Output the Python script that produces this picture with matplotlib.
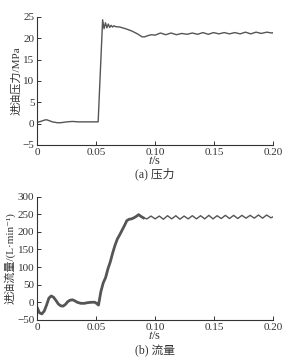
import matplotlib
matplotlib.use('Agg')
import matplotlib.pyplot as plt

plt.rcParams['font.family'] = ['Liberation Serif', 'Noto Sans CJK SC', 'DejaVu Sans']
plt.rcParams['mathtext.fontset'] = 'stix'
plt.rcParams['font.size'] = 8

# (a) 压力
p_t = [0, 0.003, 0.006, 0.008, 0.010, 0.013, 0.017, 0.020, 0.025, 0.030,
       0.035, 0.040, 0.045, 0.050, 0.0517, 0.0555, 0.0567, 0.0579, 0.0591, 0.0603,
       0.0615, 0.0627, 0.0639, 0.0651, 0.0663, 0.070, 0.075, 0.080,
       0.085, 0.089, 0.091, 0.094, 0.097,
       0.100, 0.1045, 0.109, 0.1135, 0.118, 0.1225, 0.127, 0.1315, 0.136, 0.1405,
       0.145, 0.1495, 0.154, 0.1585, 0.163, 0.1675, 0.172, 0.1765, 0.181, 0.1855,
       0.190, 0.1945, 0.199, 0.200]
p_val = [0.3, 0.5, 0.8, 0.9, 0.7, 0.4, 0.2, 0.2, 0.4, 0.5,
         0.4, 0.4, 0.4, 0.4, 0.4, 24.3, 22.2, 23.6, 22.4, 23.3,
         22.5, 23.0, 22.6, 22.9, 22.7, 22.6, 22.2, 21.7,
         21.0, 20.3, 20.3, 20.6, 20.8,
         20.7, 21.2, 20.8, 21.2, 20.8, 21.1, 20.9, 21.2, 20.9, 21.3,
         20.9, 21.3, 21.0, 21.3, 21.0, 21.3, 21.0, 21.4, 21.0, 21.4,
         21.1, 21.4, 21.2, 21.3]

# (b) 流量
q_t = [0, 0.002, 0.004, 0.006, 0.008, 0.010, 0.012, 0.014, 0.016, 0.018,
       0.020, 0.022, 0.024, 0.026, 0.028, 0.030, 0.032, 0.034, 0.037, 0.040,
       0.043, 0.046, 0.049, 0.051, 0.052, 0.054, 0.056, 0.058, 0.060, 0.062,
       0.064, 0.066, 0.068, 0.070, 0.072, 0.074, 0.076, 0.078, 0.080, 0.082,
       0.084, 0.086, 0.088, 0.090,
       0.093, 0.0965, 0.100, 0.1035, 0.107, 0.1105, 0.114, 0.1175, 0.121, 0.1245,
       0.128, 0.1315, 0.135, 0.1385, 0.142, 0.1455, 0.149, 0.1525, 0.156, 0.1595,
       0.163, 0.1665, 0.170, 0.1735, 0.177, 0.1805, 0.184, 0.1875, 0.191, 0.1945,
       0.198, 0.200]
q_val = [-15, -30, -33, -25, -8, 12, 18, 14, 5, -5,
         -10, -11, -6, 2, 6, 7, 4, 0, -3, -3,
         -1, 0, 0, -5, -8, 30, 55, 70, 95, 115,
         140, 162, 180, 192, 205, 218, 232, 236, 237, 240,
         244, 249, 244, 240,
         237, 245, 237, 245, 236, 246, 237, 246, 236, 245,
         237, 246, 237, 246, 237, 247, 237, 246, 238, 247,
         238, 247, 238, 247, 239, 247, 239, 248, 239, 248,
         240, 243]

line_col = '#555555'
text_col = '#333333'

fig = plt.figure(figsize=(2.9, 3.57), dpi=100)
ax1 = fig.add_axes([0.128, 0.594, 0.814, 0.359])
ax2 = fig.add_axes([0.128, 0.104, 0.814, 0.345])

ax1.plot(p_t, p_val, color=line_col, lw=1.0)
ax1.set_xlim(0, 0.2)
ax1.set_ylim(-5, 25)
ax1.set_yticks([-5, 0, 5, 10, 15, 20, 25])
ax1.set_ylabel('进油压力/MPa', labelpad=1)

split = q_t.index(0.090)
ax2.plot(q_t[:split + 1], q_val[:split + 1], color=line_col, lw=2.0)
ax2.plot(q_t[split:], q_val[split:], color=line_col, lw=1.0)
ax2.set_xlim(0, 0.2)
ax2.set_ylim(-50, 300)
ax2.set_yticks(range(-50, 301, 50))
ax2.set_ylabel('进油流量/(L·min⁻¹)', labelpad=1)

for ax in (ax1, ax2):
    ax.set_xticks([0, 0.05, 0.10, 0.15, 0.20])
    ax.set_xticklabels(['0', '0.05', '0.10', '0.15', '0.20'])
    ax.spines['top'].set_visible(False)
    ax.spines['right'].set_visible(False)
    for s in ('left', 'bottom'):
        ax.spines[s].set_color(text_col)
        ax.spines[s].set_linewidth(0.8)
    ax.tick_params(direction='in', length=3, width=0.7, colors=text_col,
                   labelsize=8, pad=2)
    ax.yaxis.label.set_color(text_col)
    ax.set_xlabel('$t$/s', labelpad=-1, color=text_col, fontsize=9)

fig.text(0.535, 1 - 174 / 357, '(a) 压力', ha='center', va='center',
         color=text_col, fontsize=8.5)
fig.text(0.535, 1 - 351 / 357, '(b) 流量', ha='center', va='center',
         color=text_col, fontsize=8.5)

fig.savefig('out.png', dpi=100)
